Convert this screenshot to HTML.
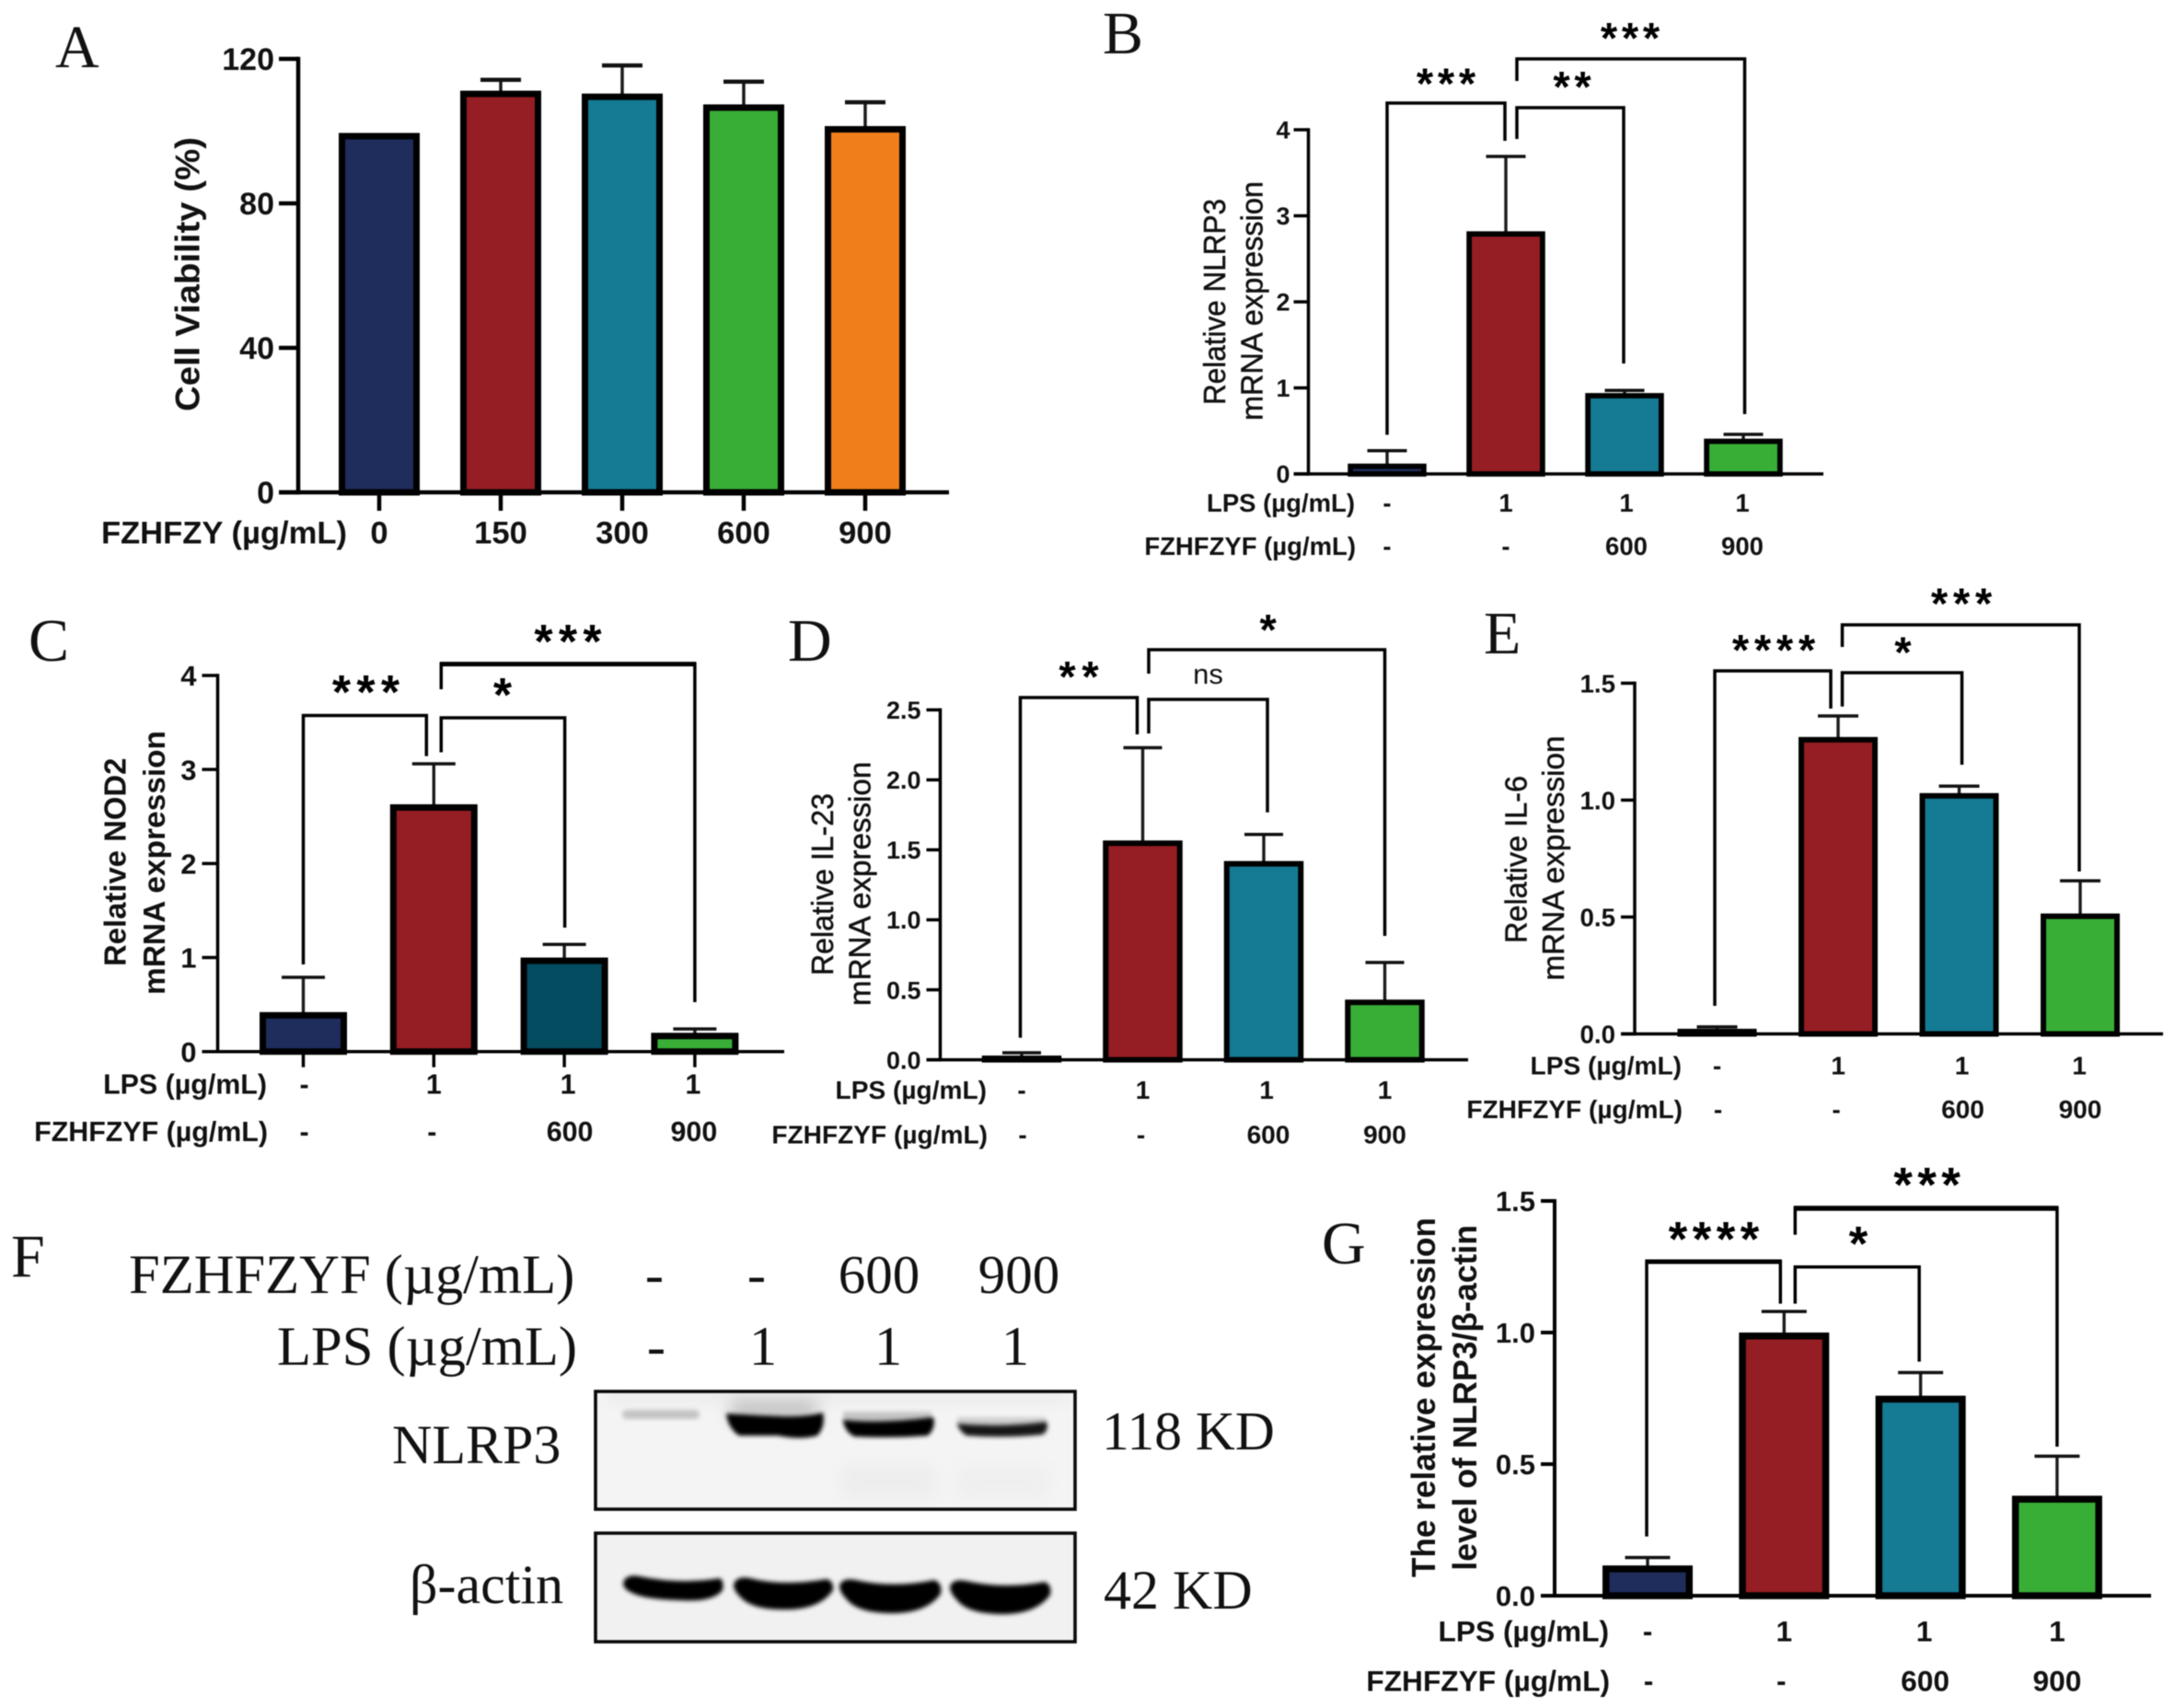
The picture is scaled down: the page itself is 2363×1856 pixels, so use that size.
<!DOCTYPE html>
<html lang="en">
<head>
<meta charset="utf-8">
<title>FZHFZYF bar chart figure</title>
<style>
html,body{margin:0;padding:0;background:#fff;width:2363px;height:1856px;overflow:hidden}
svg{display:block;position:absolute;left:0;top:0;filter:blur(.45px)}
.sans{font-family:"Liberation Sans",sans-serif}
.serif{font-family:"Liberation Serif","Noto Serif CJK SC",serif;fill:#111}
</style>
</head>
<body>
<svg id="fig" xmlns="http://www.w3.org/2000/svg" width="2363" height="1856" viewBox="0 0 2363 1856">
  <defs>
    <filter id="bandBlur" x="-20%" y="-60%" width="140%" height="220%"><feGaussianBlur stdDeviation="2.4"/></filter>
    <filter id="softBlur" x="-30%" y="-100%" width="160%" height="300%"><feGaussianBlur stdDeviation="9"/></filter>
    <clipPath id="blotClip1"><rect x="647" y="1512" width="521" height="128"/></clipPath>
    <clipPath id="blotClip2"><rect x="647" y="1666" width="521" height="118"/></clipPath>
  </defs>

  <g id="panel-letters" class="serif" font-size="66">
    <text x="60" y="73">A</text>
    <text x="1198" y="58">B</text>
    <text x="31" y="718">C</text>
    <text x="856" y="718">D</text>
    <text x="1612" y="710">E</text>
    <text x="12" y="1387">F</text>
    <text x="1436" y="1373">G</text>
  </g>

  <g id="panel-f" class="serif">
    <g font-size="60.6">
      <text x="140" y="1405">FZHFZYF (µg/mL)</text>
      <text x="301" y="1483">LPS (µg/mL)</text>
      <text x="711" y="1405" text-anchor="middle">-</text>
      <text x="822" y="1405" text-anchor="middle">-</text>
      <text x="955" y="1405" text-anchor="middle" font-size="59">600</text>
      <text x="1107" y="1405" text-anchor="middle" font-size="59">900</text>
      <text x="713" y="1483" text-anchor="middle">-</text>
      <text x="829" y="1483" text-anchor="middle">1</text>
      <text x="965" y="1483" text-anchor="middle">1</text>
      <text x="1103" y="1483" text-anchor="middle">1</text>
      <text x="426" y="1590" font-size="60">NLRP3</text>
      <text x="445" y="1742" font-size="60">β-actin</text>
      <text x="1197" y="1575" font-size="59.5">118 KD</text>
      <text x="1199" y="1748" font-size="60">42 KD</text>
    </g>

    <g>
      <rect x="647" y="1512" width="521" height="128" fill="#f4f4f4"/>
      <g clip-path="url(#blotClip1)">
        <rect x="660" y="1506" width="500" height="14" fill="#e6e6e6" filter="url(#softBlur)"/>
        <rect x="915" y="1592" width="100" height="36" fill="#ededed" filter="url(#softBlur)"/>
        <rect x="1040" y="1592" width="100" height="36" fill="#efefef" filter="url(#softBlur)"/>
        <rect x="794" y="1522" width="94" height="20" fill="#bdbdbd" filter="url(#softBlur)"/>
        <rect x="916" y="1534" width="96" height="12" fill="#c4c4c4" filter="url(#bandBlur)"/>
        <rect x="1040" y="1540" width="96" height="10" fill="#cfcfcf" filter="url(#bandBlur)"/>
        <rect x="676" y="1532" width="84" height="10" rx="5" fill="#c4c4c4" filter="url(#bandBlur)"/>
        <path d="M789 1536 Q820 1538 850 1539 Q875 1540 894 1535 Q897 1550 888 1560 Q870 1565 845 1560 Q815 1560 803 1560 Q791 1552 789 1536Z" fill="#000" filter="url(#bandBlur)"/>
        <path d="M916 1543 Q960 1547 1014 1540 Q1017 1552 1008 1560 Q970 1563 928 1561 Q917 1555 916 1543Z" fill="#050505" filter="url(#bandBlur)"/>
        <path d="M1040 1547 Q1090 1551 1137 1545 Q1140 1555 1132 1559 Q1090 1563 1050 1560 Q1042 1555 1040 1547Z" fill="#181818" filter="url(#bandBlur)"/>
      </g>
      <rect x="647" y="1512" width="521" height="128" fill="none" stroke="#0a0a0a" stroke-width="3.6"/>
    </g>

    <g>
      <rect x="647" y="1666" width="521" height="118" fill="#f1f1f1"/>
      <g clip-path="url(#blotClip2)" fill="#000" filter="url(#bandBlur)">
        <path d="M677 1720 Q680 1710 695 1713 Q740 1722 782 1715 Q787 1718 785 1728 Q775 1741 740 1739 Q700 1738 687 1731 Q677 1727 677 1720Z"/>
        <path d="M797 1722 Q800 1712 815 1715 Q850 1724 898 1716 Q906 1718 905 1728 Q890 1750 850 1749 Q815 1749 803 1734 Q797 1728 797 1722Z"/>
        <path d="M912 1723 Q915 1714 930 1717 Q970 1726 1015 1717 Q1024 1720 1022 1732 Q1006 1754 965 1753 Q930 1752 919 1737 Q912 1730 912 1723Z"/>
        <path d="M1032 1724 Q1035 1715 1050 1718 Q1090 1727 1135 1719 Q1143 1722 1141 1733 Q1125 1755 1085 1754 Q1050 1753 1039 1738 Q1032 1731 1032 1724Z"/>
      </g>
      <rect x="647" y="1666" width="521" height="118" fill="none" stroke="#0a0a0a" stroke-width="3.6"/>
    </g>
  </g>
</svg>

<script>
// Panel A
const panelACategories = ['0', '150', '300', '600', '900'];
const panelAValues = [99.5, 111.2, 110.4, 107.4, 101.4];
const panelAErrors = [0, 3.0, 7.8, 6.3, 6.6];
const panelATicks = [0, 40, 80, 120];
const panelATickLabels = ['0', '40', '80', '120'];

// Panel B
const panelBLps = ['-', '1', '1', '1'];
const panelBDose = ['-', '-', '600', '900'];
const panelBValues = [0.12, 2.82, 0.94, 0.41];
const panelBErrors = [0.15, 0.87, 0.03, 0.05];
const panelBTicks = [0, 1, 2, 3, 4];
const panelBTickLabels = ['0', '1', '2', '3', '4'];

// Panel C
const panelCLps = ['-', '1', '1', '1'];
const panelCDose = ['-', '-', '600', '900'];
const panelCValues = [0.42, 2.63, 1.0, 0.2];
const panelCErrors = [0.37, 0.43, 0.14, 0.04];
const panelCTicks = [0, 1, 2, 3, 4];
const panelCTickLabels = ['0', '1', '2', '3', '4'];

// Panel D
const panelDLps = ['-', '1', '1', '1'];
const panelDDose = ['-', '-', '600', '900'];
const panelDValues = [0.03, 1.567, 1.42, 0.43];
const panelDErrors = [0.02, 0.663, 0.19, 0.265];
const panelDTicks = [0, 0.5, 1, 1.5, 2, 2.5];
const panelDTickLabels = ['0.0', '0.5', '1.0', '1.5', '2.0', '2.5'];

// Panel E
const panelELps = ['-', '1', '1', '1'];
const panelEDose = ['-', '-', '600', '900'];
const panelEValues = [0.022, 1.27, 1.03, 0.515];
const panelEErrors = [0.008, 0.09, 0.03, 0.14];
const panelETicks = [0, 0.5, 1, 1.5];
const panelETickLabels = ['0.0', '0.5', '1.0', '1.5'];

// Panel G
const panelGLps = ['-', '1', '1', '1'];
const panelGDose = ['-', '-', '600', '900'];
const panelGValues = [0.115, 1.0, 0.76, 0.38];
const panelGErrors = [0.03, 0.08, 0.088, 0.15];
const panelGTicks = [0, 0.5, 1, 1.5];
const panelGTickLabels = ['0.0', '0.5', '1.0', '1.5'];

const colNavy = '#1f2d5c', colRed = '#951d24', colTeal = '#157a94', colGreen = '#38ae37', colOrange = '#f07f1b', colDeep = '#044c60';
const svgNS = 'http://www.w3.org/2000/svg';
const fig = document.getElementById('fig');

function make(tag, parent, attrs) {
  const node = document.createElementNS(svgNS, tag);
  for (const k in attrs) node.setAttribute(k, attrs[k]);
  parent.appendChild(node);
  return node;
}

function drawPanel(p) {
  const g = make('g', fig, { class: 'sans' });
  
  

  const yScale = v => p.y0 - (v / p.yMax) * (p.y0 - p.yTop);
  const xScale = i => p.x1 + p.step * i;

  // bars and error bars
  p.values.forEach((v, i) => {
    const top = yScale(v);
    const errTop = yScale(v + p.errors[i]);
    if (p.errors[i] > 0) {
      const stem = make('line', g, { x1: xScale(i), x2: xScale(i), y1: top + 2, y2: errTop, stroke: '#1a1a1a', 'stroke-width': p.stemW });
      
      
      const cap = make('line', g, { x1: xScale(i) - p.capHalf, x2: xScale(i) + p.capHalf, y1: errTop, y2: errTop, stroke: '#111', 'stroke-width': p.capW });
      
      
    }
    const h = Math.max(0.5, p.y0 - top - p.barStroke / 2);
    const bar = make('rect', g, { x: xScale(i) - p.barW / 2 + p.barStroke / 2, y: top + p.barStroke / 2, width: p.barW - p.barStroke, height: h, fill: p.colors[i], stroke: '#000', 'stroke-width': p.barStroke });
    
    
  });

  // axes
  const yAxis = make('line', g, { x1: p.axisX, x2: p.axisX, y1: yScale(p.yMax) - p.axisW / 2, y2: p.y0 + p.axisW / 2, stroke: '#000', 'stroke-width': p.axisW });
  
  
  const xAxis = make('line', g, { x1: p.axisX - p.tickLen, x2: p.xEnd, y1: p.y0, y2: p.y0, stroke: '#000', 'stroke-width': p.axisW });
  
  

  p.ticks.forEach((t, i) => {
    const tick = make('line', g, { x1: p.axisX - p.tickLen, x2: p.axisX, y1: yScale(t), y2: yScale(t), stroke: '#000', 'stroke-width': p.axisW });
    
    
    const lab = make('text', g, { x: p.axisX - p.tickLen - p.tickGap, y: yScale(t) + p.tickFont * 0.36, 'text-anchor': 'end', 'font-size': p.tickFont, 'font-weight': 'bold', fill: '#111' });
    lab.textContent = p.tickLabels[i];
    
    
  });

  if (p.xTickLen) {
    p.values.forEach((v, i) => {
      const tx = make('line', g, { x1: xScale(i), x2: xScale(i), y1: p.y0, y2: p.y0 + p.xTickLen, stroke: '#000', 'stroke-width': p.axisW });
      
      
    });
  }

  // rows of x labels
  p.rows.forEach((r, ri) => {
    const head = make('text', g, { x: r.headX, y: r.y + p.rowFont * 0.36, 'text-anchor': 'end', 'font-size': p.rowFont, 'font-weight': 'bold', fill: '#111' });
    head.textContent = r.head;
    
    
    r.cells.forEach((c, i) => {
      const cell = make('text', g, { x: xScale(i) + r.dx[i], y: r.y + p.rowFont * 0.36, 'text-anchor': 'middle', 'font-size': p.rowFont, 'font-weight': 'bold', fill: '#111' });
      cell.textContent = c;
      
      
    });
  });

  // y titles
  p.titles.forEach((t, ti) => {
    const bx = t.cx + t.font * 0.36;
    const my = (t.top + t.bottom) / 2;
    const title = make('text', g, { x: 0, y: 0, transform: 'translate(' + bx + ',' + my + ') rotate(-90)', 'text-anchor': 'middle', 'font-size': t.font, 'font-weight': t.bold ? 'bold' : 'normal', fill: '#111', textLength: t.bottom - t.top, lengthAdjust: 'spacingAndGlyphs' });
    if (!t.bold) title.setAttribute('stroke', '#111');
    if (!t.bold) title.setAttribute('stroke-width', '0.5');
    title.textContent = t.text;
    
    
  });

  // significance brackets
  p.brackets.forEach((b, bi) => {
    const xa = xScale(b.a) + b.adx;
    const xb = xScale(b.b) + b.bdx;
    const path = make('path', g, { d: 'M' + xa + ' ' + b.aEnd + 'V' + b.top + 'H' + xb + 'V' + b.bEnd, fill: 'none', stroke: '#000', 'stroke-width': p.bracketW });
    
    
    if (b.heavy) {
      const heavy = make('line', g, { x1: xa - 1.5, x2: xb + 1.5, y1: b.top, y2: b.top, stroke: '#000', 'stroke-width': b.heavy });
      
      
    }
    if (b.mark === 'ns') {
      const ns = make('text', g, { x: b.markX, y: b.markY + 11, 'text-anchor': 'middle', 'font-size': 31, fill: '#111' });
      ns.textContent = 'ns';
      
      
    } else {
      const f = p.starFont;
      const ls = p.starSpacing - 0.389 * f;
      const star = make('text', g, { x: b.markX + ls / 2, y: b.markY + f * 0.48, 'text-anchor': 'middle', 'font-size': f, 'font-weight': 'bold', 'letter-spacing': ls, fill: '#000' });
      star.textContent = b.mark;
      
      
    }
  });
}

drawPanel({
  id: 'a', values: panelAValues, errors: panelAErrors, ticks: panelATicks, tickLabels: panelATickLabels, yMax: 120,
  y0: 535, yTop: 64, axisX: 324, xEnd: 1031, tickLen: 21, tickGap: 5, xTickLen: 20, axisW: 4.5,
  x1: 412, step: 132, barW: 88, barStroke: 7, stemW: 3.5, capW: 4.5, capHalf: 22, tickFont: 34, rowFont: 34.6, bracketW: 3.5, starFont: 47, starSpacing: 23,
  colors: [colNavy, colRed, colTeal, colGreen, colOrange],
  rows: [{ head: 'FZHFZY (µg/mL)', headX: 377, y: 578, cells: panelACategories, dx: [0, 0, 0, 0, 0] }],
  titles: [{ text: 'Cell Viability (%)', cx: 203, top: 149, bottom: 447, font: 37, bold: true }],
  brackets: []
});

drawPanel({
  id: 'b', values: panelBValues, errors: panelBErrors, ticks: panelBTicks, tickLabels: panelBTickLabels, yMax: 4,
  y0: 515, yTop: 141, axisX: 1421.5, xEnd: 1981, tickLen: 16, tickGap: 4, xTickLen: 0, axisW: 3.5,
  x1: 1507, step: 129, barW: 85.5, barStroke: 5.8, stemW: 3.4, capW: 3.5, capHalf: 21.5, tickFont: 27, rowFont: 27.5, bracketW: 3.5, starFont: 47, starSpacing: 23,
  colors: [colNavy, colRed, colTeal, colGreen],
  rows: [
    { head: 'LPS (µg/mL)', headX: 1472, y: 546, cells: panelBLps, dx: [0, 0, 2, -1] },
    { head: 'FZHFZYF (µg/mL)', headX: 1473, y: 593, cells: panelBDose, dx: [0, 0, 2, -1] }
  ],
  titles: [
    { text: 'Relative NLRP3', cx: 1319, top: 216, bottom: 440, font: 33 },
    { text: 'mRNA expression', cx: 1359.5, top: 197, bottom: 457, font: 33 }
  ],
  brackets: [
    { a: 0, adx: 0, b: 1, bdx: -1, top: 112, aEnd: 472.5, bEnd: 153, mark: '***', markX: 1571, markY: 84.5 },
    { a: 1, adx: 12, b: 2, bdx: -1, top: 117, aEnd: 151, bEnd: 395, mark: '**', markX: 1708, markY: 88 },
    { a: 1, adx: 12, b: 3, bdx: 1.5, top: 64, aEnd: 88, bEnd: 450, mark: '***', markX: 1771, markY: 35 }
  ]
});

drawPanel({
  id: 'c', values: panelCValues, errors: panelCErrors, ticks: panelCTicks, tickLabels: panelCTickLabels, yMax: 4,
  y0: 1142.7, yTop: 734, axisX: 236.5, xEnd: 852, tickLen: 17, tickGap: 6, xTickLen: 17, axisW: 3.5,
  x1: 329.5, step: 141.8, barW: 95, barStroke: 7, stemW: 3.4, capW: 3.5, capHalf: 23.5, tickFont: 31, rowFont: 30.4, bracketW: 3.5, starFont: 52, starSpacing: 26.5,
  colors: [colNavy, colRed, colDeep, colGreen],
  rows: [
    { head: 'LPS (µg/mL)', headX: 290, y: 1177.5, cells: panelCLps, dx: [1, 0, 4, -2] },
    { head: 'FZHFZYF (µg/mL)', headX: 291, y: 1229, cells: panelCDose, dx: [1, -2, 6, -1] }
  ],
  titles: [
    { text: 'Relative NOD2', cx: 124.5, top: 823.6, bottom: 1050, font: 33, bold: true },
    { text: 'mRNA expression', cx: 167, top: 794, bottom: 1081, font: 33, bold: true }
  ],
  brackets: [
    { a: 0, adx: 0, b: 1, bdx: -8, top: 777.5, aEnd: 1048, bEnd: 821.6, mark: '***', markX: 397.5, markY: 745 },
    { a: 1, adx: 8, b: 2, bdx: 0.5, top: 780, aEnd: 817.5, bEnd: 1008, mark: '*', markX: 546, markY: 748 },
    { a: 1, adx: 8, b: 3, bdx: 0, top: 721.6, aEnd: 749, bEnd: 1089, heavy: 5, mark: '***', markX: 617, markY: 690 }
  ]
});

drawPanel({
  id: 'd', values: panelDValues, errors: panelDErrors, ticks: panelDTicks, tickLabels: panelDTickLabels, yMax: 2.5,
  y0: 1151.6, yTop: 771.4, axisX: 1021.5, xEnd: 1595, tickLen: 15, tickGap: 6, xTickLen: 0, axisW: 3.5,
  x1: 1110, step: 131.5, barW: 86.5, barStroke: 6, stemW: 3.4, capW: 3.5, capHalf: 21, tickFont: 27, rowFont: 28.1, bracketW: 3.5, starFont: 47, starSpacing: 25,
  colors: [colNavy, colRed, colTeal, colGreen],
  rows: [
    { head: 'LPS (µg/mL)', headX: 1072, y: 1184, cells: panelDLps, dx: [0, 0, 3, 0] },
    { head: 'FZHFZYF (µg/mL)', headX: 1073, y: 1232.5, cells: panelDDose, dx: [1, -2, 5, 0] }
  ],
  titles: [
    { text: 'Relative IL-23', cx: 893, top: 862, bottom: 1060, font: 33 },
    { text: 'mRNA expression', cx: 933.4, top: 827.7, bottom: 1093, font: 33 }
  ],
  brackets: [
    { a: 0, adx: -1.5, b: 1, bdx: -6, top: 758, aEnd: 1127.6, bEnd: 798, mark: '**', markX: 1172, markY: 729 },
    { a: 1, adx: 6.5, b: 2, bdx: 4, top: 760, aEnd: 797, bEnd: 882.8, mark: 'ns', markX: 1312.5, markY: 732 },
    { a: 1, adx: 6.5, b: 3, bdx: 0, top: 706, aEnd: 732, bEnd: 1017, mark: '*', markX: 1377.7, markY: 678 }
  ]
});

drawPanel({
  id: 'e', values: panelEValues, errors: panelEErrors, ticks: panelETicks, tickLabels: panelETickLabels, yMax: 1.5,
  y0: 1123.5, yTop: 742.4, axisX: 1776, xEnd: 2350, tickLen: 15, tickGap: 6, xTickLen: 0, axisW: 3.5,
  x1: 1865.5, step: 131.5, barW: 86, barStroke: 6, stemW: 3.4, capW: 3.5, capHalf: 22, tickFont: 27.7, rowFont: 28.1, bracketW: 3.5, starFont: 47, starSpacing: 24,
  colors: [colNavy, colRed, colTeal, colGreen],
  rows: [
    { head: 'LPS (µg/mL)', headX: 1827, y: 1157.5, cells: panelELps, dx: [0, 0, 3, -1] },
    { head: 'FZHFZYF (µg/mL)', headX: 1828, y: 1205, cells: panelEDose, dx: [1, -2, 4, 0] }
  ],
  titles: [
    { text: 'Relative IL-6', cx: 1646.4, top: 843, bottom: 1025, font: 33 },
    { text: 'mRNA expression', cx: 1687, top: 799.5, bottom: 1065.5, font: 33 }
  ],
  brackets: [
    { a: 0, adx: -2.5, b: 1, bdx: -8, top: 729, aEnd: 1093, bEnd: 770, mark: '****', markX: 1927, markY: 700 },
    { a: 1, adx: 4.5, b: 2, bdx: 3, top: 731, aEnd: 767.7, bEnd: 831, mark: '*', markX: 2067.4, markY: 702.4 },
    { a: 1, adx: 4.5, b: 3, bdx: -1, top: 679, aEnd: 703, bEnd: 947, mark: '***', markX: 2131, markY: 649.4 }
  ]
});

drawPanel({
  id: 'g', values: panelGValues, errors: panelGErrors, ticks: panelGTicks, tickLabels: panelGTickLabels, yMax: 1.5,
  y0: 1734, yTop: 1305, axisX: 1689, xEnd: 2337, tickLen: 15, tickGap: 6, xTickLen: 0, axisW: 4,
  x1: 1790, step: 148.3, barW: 98, barStroke: 7.5, stemW: 3.4, capW: 3.5, capHalf: 24.5, tickFont: 31, rowFont: 31.7, bracketW: 3.5, starFont: 53, starSpacing: 26,
  colors: [colNavy, colRed, colTeal, colGreen],
  rows: [
    { head: 'LPS (µg/mL)', headX: 1748, y: 1772, cells: panelGLps, dx: [0, 0, 4, 0] },
    { head: 'FZHFZYF (µg/mL)', headX: 1749, y: 1826, cells: panelGDose, dx: [1, -3, 5, 0] }
  ],
  titles: [
    { text: 'The relative expression', cx: 1546, top: 1323, bottom: 1714, font: 36, bold: true },
    { text: 'level of NLRP3/β-actin', cx: 1591, top: 1331, bottom: 1706.6, font: 36, bold: true }
  ],
  brackets: [
    { a: 0, adx: -1, b: 1, bdx: -4, top: 1371, aEnd: 1669.6, bEnd: 1416.6, heavy: 5, mark: '****', markX: 1862, markY: 1339 },
    { a: 1, adx: 12, b: 2, bdx: -1.5, top: 1376.7, aEnd: 1416.6, bEnd: 1479.6, mark: '*', markX: 2019, markY: 1344 },
    { a: 1, adx: 12, b: 3, bdx: 0, top: 1313, aEnd: 1341.7, bEnd: 1572, heavy: 5.5, mark: '***', markX: 2093.6, markY: 1280 }
  ]
});
</script>
</body>
</html>
